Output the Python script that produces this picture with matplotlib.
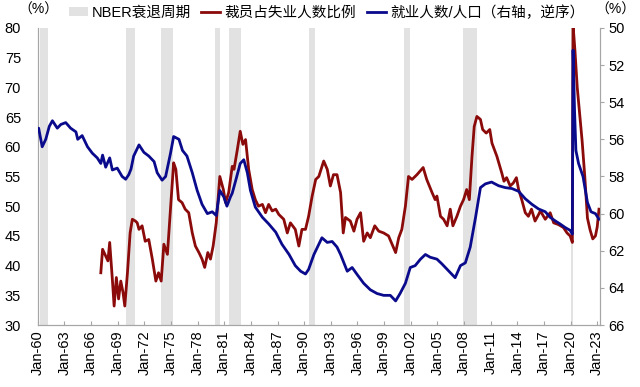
import numpy as np
import matplotlib
matplotlib.use("Agg")
import matplotlib.pyplot as plt
from matplotlib.patches import Patch
from matplotlib.lines import Line2D

plt.rcParams["font.family"] = ["Liberation Sans", "Noto Sans CJK SC"]

# NBER recessions (start, end) in decimal years
RECESSIONS = [(1960.25, 1961.1), (1969.9, 1970.9), (1973.85, 1975.2), (1980.0, 1980.55),
              (1981.5, 1982.9), (1990.5, 1991.2), (2001.2, 2001.9), (2007.9, 2009.5),
              (2020.1, 2020.3)]

# Employment / population (%), right axis, inverted
ep_years = [1960.0, 1960.1, 1960.5, 1960.9, 1961.3, 1961.65, 1962.2, 1962.6, 1963.15, 1963.7,
            1964.3, 1964.5, 1965.0, 1965.6, 1966.15, 1966.7, 1967.1, 1967.3, 1967.65, 1968.1,
            1968.4, 1968.95, 1969.5, 1969.9, 1970.25, 1970.5, 1970.8, 1971.4, 1971.95, 1972.5,
            1973.1, 1973.45, 1974.0, 1974.4, 1974.95, 1975.3, 1975.9, 1976.3, 1976.8, 1977.4,
            1977.95, 1978.5, 1979.1, 1979.65, 1980.1, 1980.5, 1980.95, 1981.3, 1981.7, 1981.9,
            1982.3, 1982.8, 1983.2, 1983.6, 1983.95, 1984.5, 1985.3, 1986.0, 1986.8, 1987.5,
            1988.3, 1989.0, 1989.6, 1990.15, 1990.5, 1991.1, 1991.65, 1992.0, 1992.6, 1993.15,
            1993.7, 1994.1, 1994.85, 1995.4, 1996.0, 1996.7, 1997.45, 1998.2, 1998.95, 1999.7,
            2000.3, 2000.8, 2001.4, 2001.95, 2002.5, 2003.1, 2003.65, 2004.2, 2004.95, 2005.5,
            2006.3, 2007.0, 2007.6, 2008.15, 2008.7, 2009.3, 2009.85, 2010.4, 2011.1, 2011.9,
            2012.65, 2013.4, 2014.15, 2014.9, 2015.65, 2016.4, 2017.15, 2017.7, 2018.3, 2018.8,
            2019.4, 2019.95, 2020.2, 2020.28, 2020.45, 2020.6, 2020.9, 2021.4, 2021.9, 2022.3,
            2022.8, 2023.2]
ep_values = [55.5, 55.4, 56.4, 56.0, 55.3, 55.0, 55.4, 55.2, 55.1, 55.4,
             55.6, 56.0, 55.8, 56.4, 56.75, 57.0, 57.3, 56.85, 57.5, 57.0,
             57.65, 57.55, 58.0, 58.15, 57.9, 57.6, 56.9, 56.3, 56.7, 56.9,
             57.2, 57.8, 58.2, 58.0, 56.75, 55.85, 56.0, 56.6, 56.9, 57.8,
             58.75, 59.5, 60.0, 59.9, 60.1, 58.75, 59.1, 59.6, 59.1, 58.9,
             58.2, 57.3, 57.1, 57.8, 58.75, 59.65, 60.2, 60.55, 61.0, 61.65,
             62.2, 62.8, 63.1, 63.25, 63.0, 62.2, 61.65, 61.3, 61.55, 61.5,
             61.8, 62.2, 63.1, 62.9, 63.3, 63.75, 64.1, 64.3, 64.4, 64.4,
             64.7, 64.3, 63.75, 62.9, 62.8, 62.45, 62.2, 62.35, 62.45, 62.7,
             63.1, 63.45, 62.8, 62.65, 61.8, 60.2, 58.6, 58.4, 58.3, 58.5,
             58.6, 58.65, 58.8, 59.2, 59.5, 59.75, 59.9, 60.2, 60.4, 60.55,
             60.75, 60.9, 61.1, 51.2, 54.5, 56.6, 57.3, 58.0, 59.4, 59.9,
             60.0, 60.3]

# Job losers on layoff as share of unemployed (%), left axis
layoff_years = [1967.1, 1967.3, 1967.65, 1967.9, 1968.1, 1968.4, 1968.6, 1968.85, 1969.1, 1969.35,
                1969.6, 1969.8, 1970.1, 1970.4, 1970.65, 1971.0, 1971.2, 1971.4, 1971.75, 1972.1,
                1972.5, 1972.9, 1973.3, 1973.6, 1973.9, 1974.2, 1974.6, 1974.95, 1975.3, 1975.55,
                1975.85, 1976.25, 1976.6, 1977.0, 1977.4, 1977.75, 1978.15, 1978.5, 1978.8, 1979.15,
                1979.45, 1979.75, 1980.1, 1980.5, 1980.9, 1981.15, 1981.5, 1981.9, 1982.1, 1982.45,
                1982.8, 1983.1, 1983.4, 1983.75, 1984.15, 1984.5, 1984.85, 1985.3, 1985.65, 1986.0,
                1986.4, 1986.8, 1987.15, 1987.7, 1988.1, 1988.45, 1989.0, 1989.4, 1989.75, 1990.15,
                1990.5, 1990.9, 1991.3, 1991.65, 1992.2, 1992.6, 1992.95, 1993.3, 1993.7, 1994.1,
                1994.4, 1994.65, 1995.2, 1995.6, 1995.95, 1996.35, 1996.7, 1997.1, 1997.45, 1997.95,
                1998.4, 1998.95, 1999.5, 1999.9, 2000.3, 2000.65, 2001.0, 2001.4, 2001.75, 2002.15,
                2002.7, 2003.4, 2003.8, 2004.4, 2004.75, 2004.95, 2005.35, 2005.7, 2006.1, 2006.45,
                2006.75, 2007.2, 2007.6, 2007.95, 2008.3, 2008.6, 2008.9, 2009.15, 2009.45, 2009.85,
                2010.1, 2010.5, 2010.9, 2011.15, 2011.7, 2012.25, 2012.5, 2012.8, 2013.2, 2013.55,
                2013.9, 2014.15, 2014.5, 2014.9, 2015.25, 2015.6, 2016.0, 2016.4, 2016.6, 2017.15,
                2017.7, 2018.1, 2018.65, 2019.2, 2019.6, 2019.95, 2020.2, 2020.28, 2020.5, 2020.75,
                2021.0, 2021.3, 2021.6, 2021.9, 2022.2, 2022.5, 2022.8, 2023.0, 2023.2]
layoff_values = [38.8, 42.75, 41.6, 40.8, 43.9, 37.7, 33.2, 38.0, 34.4, 37.4,
                 35.5, 33.2, 38.8, 45.5, 47.8, 47.5, 47.2, 46.1, 46.7, 44.1,
                 44.4, 41.1, 37.4, 38.8, 37.4, 43.6, 41.9, 49.5, 57.3, 56.2,
                 51.1, 50.6, 49.5, 48.9, 45.5, 43.3, 42.2, 41.1, 39.7, 42.2,
                 41.1, 43.3, 47.2, 55.0, 52.8, 50.6, 52.3, 56.7, 56.2, 59.3,
                 62.6, 60.4, 61.2, 56.2, 52.8, 51.1, 50.0, 50.3, 48.9, 50.3,
                 49.2, 49.5, 48.6, 47.8, 45.5, 47.2, 46.1, 43.3, 46.1, 46.1,
                 48.3, 51.7, 54.5, 55.0, 57.6, 56.2, 53.4, 55.3, 55.3, 52.3,
                 45.5, 48.1, 47.5, 45.8, 47.8, 48.9, 44.1, 45.5, 44.7, 46.7,
                 45.8, 45.5, 45.0, 43.6, 42.2, 44.7, 46.1, 50.0, 55.0, 54.5,
                 55.3, 56.5, 54.5, 52.3, 51.1, 51.7, 48.3, 47.8, 46.7, 49.5,
                 46.7, 48.3, 50.0, 51.1, 52.8, 51.1, 58.4, 63.4, 65.1, 64.6,
                 62.9, 62.3, 62.9, 60.6, 58.4, 55.6, 54.2, 54.8, 53.4, 53.9,
                 54.8, 52.8, 51.1, 48.9, 48.3, 49.5, 47.5, 48.6, 49.2, 47.8,
                 48.9, 47.2, 46.9, 46.4, 45.5, 45.0, 43.9, 80.5, 76.0, 70.0,
                 66.0, 61.0, 55.0, 48.0, 46.0, 44.5, 45.0, 46.5, 49.5]

tick_years = list(range(1960, 2024, 3))
tick_labels = ["Jan-%02d" % (y % 100) for y in tick_years]

RED = "#8b0a0a"
BLUE = "#0a0a8c"
SHADE = "#e2e2e2"
GRID_GRAY = "#a6a6a6"

fig = plt.figure(figsize=(6.4, 3.87), dpi=100)
ax = fig.add_axes([0.059, 0.16, 0.879, 0.768])
ax2 = ax.twinx()

for start, end in RECESSIONS:
    ax.axvspan(start, end, color=SHADE, lw=0, zorder=0)

ax.plot(layoff_years, layoff_values, color=RED, lw=2.0, zorder=3)
ax2.plot(ep_years, ep_values, color=BLUE, lw=2.0, zorder=3)

ax.set_xlim(1960.0, 2023.35)
ax.set_ylim(30, 80)
ax.set_yticks(range(30, 81, 5))
ax2.set_ylim(66, 50)
ax2.set_yticks(range(50, 67, 2))

ax.set_xticks(tick_years)
ax.set_xticklabels(tick_labels, rotation=90, fontsize=10.5)
ax.tick_params(axis="x", direction="in", length=3, color=GRID_GRAY, pad=4)
ax.tick_params(axis="y", direction="out", length=0, labelsize=10.5, pad=12)
ax2.tick_params(axis="y", direction="out", length=3, color=GRID_GRAY, labelsize=10.5, pad=3)

for a in (ax, ax2):
    a.spines["top"].set_visible(False)
    for s in ("left", "right", "bottom"):
        a.spines[s].set_color(GRID_GRAY)
        a.spines[s].set_linewidth(0.8)

fig.text(0.028, 0.975, "（%）", fontsize=10, ha="left", va="center")
fig.text(0.93, 0.975, "（%）", fontsize=10, ha="left", va="center")

handles = [Patch(facecolor=SHADE, edgecolor="none"),
           Line2D([], [], color=RED, lw=2),
           Line2D([], [], color=BLUE, lw=2)]
labels = ["NBER衰退周期", "裁员占失业人数比例", "就业人数/人口（右轴，逆序）"]
fig.legend(handles, labels, ncol=3, loc="upper center", bbox_to_anchor=(0.51, 1.02),
           frameon=False, fontsize=10.5, handlelength=1.3, handletextpad=0.3,
           columnspacing=0.7, handleheight=0.6)

fig.savefig("out.png", dpi=100)
